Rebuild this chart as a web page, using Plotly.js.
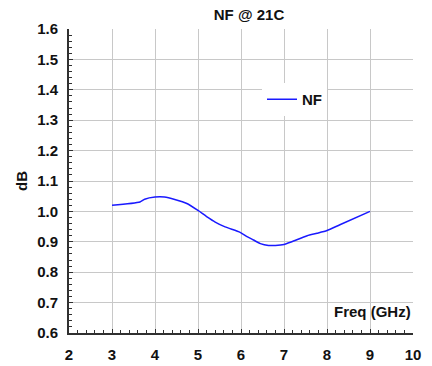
<!DOCTYPE html>
<html>
<head>
<meta charset="utf-8">
<script src="https://cdn.plot.ly/plotly-3.0.1.min.js"></script>
<style>html,body{margin:0;padding:0;background:#fff;}#chart{width:432px;height:366px;}</style>
</head>
<body>
<div id="chart"></div>
<script>
const freqGHz = [3.0, 3.65, 3.76, 4.0, 4.22, 4.46, 4.74, 5.0, 5.2, 5.4, 5.63, 5.98, 6.14, 6.29, 6.45, 6.64, 6.8, 7.0, 7.18, 7.54, 7.77, 8.0, 8.3, 9.0];
const nfDb = [1.020, 1.031, 1.040, 1.047, 1.047, 1.039, 1.026, 1.003, 0.983, 0.965, 0.949, 0.931, 0.917, 0.906, 0.894, 0.888, 0.888, 0.891, 0.900, 0.920, 0.928, 0.937, 0.956, 1.000];
const seriesName = "NF";
const chartTitle = "NF @ 21C";
const xTitle = "Freq (GHz)";
const yTitle = "dB";

const F = "Arial, Liberation Sans, sans-serif";
const FS = 15;
const axisCommon = {
  showgrid: true, gridcolor: "#c8c8c8", gridwidth: 1,
  showline: true, linecolor: "#303030", linewidth: 2,
  zeroline: false,
  ticks: "inside", ticklen: 4, tickcolor: "#303030", tickwidth: 1,
  tickfont: {family: F, size: FS, color: "#111", weight: 700}
};
const layout = {
  width: 432, height: 366,
  margin: {l: 69, r: 19, t: 29, b: 33},
  paper_bgcolor: "#fff", plot_bgcolor: "#fff",
  font: {family: F, color: "#111"},
  title: {text: "<b>" + chartTitle + "</b>", font: {family: F, size: FS, weight: 700, color: "#111"},
          x: 249/432, xref: "container", xanchor: "center", y: 1 - 15/366, yref: "container", yanchor: "middle"},
  xaxis: Object.assign({}, axisCommon, {
    range: [2, 10], dtick: 1, tick0: 2,
    minor: {dtick: 0.2, ticks: "inside", ticklen: 3, tickcolor: "#303030", showgrid: false},
    ticklabelstandoff: 7
  }),
  yaxis: Object.assign({}, axisCommon, {
    range: [0.6, 1.6], dtick: 0.1, tick0: 0.6, tickformat: ".1f",
    minor: {dtick: 0.02, ticks: "inside", ticklen: 3, tickcolor: "#303030", showgrid: false},
    title: {text: "<b>" + yTitle + "</b>", font: {family: F, size: FS, weight: 700, color: "#111"}, standoff: 6},
    ticklabelstandoff: 6
  }),
  showlegend: true,
  legend: {x: (262-69)/344, y: 1 - (83-29)/304, xanchor: "left", yanchor: "top",
           bgcolor: "#fff", borderwidth: 0, itemwidth: 30,
           font: {family: F, size: FS, weight: 700, color: "#111"}},
  shapes: [{type: "rect", xref: "paper", yref: "paper", layer: "below",
            x0: (245-69)/344, x1: (341-69)/344, y0: 1 - (113-29)/304, y1: 1 - (87-29)/304,
            fillcolor: "#fff", line: {width: 0}}],
  annotations: [{text: "<b>" + xTitle + "</b>", xref: "x", yref: "y", x: 10, y: 0.672, xanchor: "right", yanchor: "middle",
                 showarrow: false, font: {family: F, size: FS, weight: 700, color: "#111"}}]
};
const data = [{
  x: freqGHz, y: nfDb, name: "<b>" + seriesName + "</b>", type: "scatter", mode: "lines",
  line: {color: "#1a1aff", width: 1.5, shape: "spline", smoothing: 0.6}
}];
Plotly.newPlot("chart", data, layout, {staticPlot: true, displayModeBar: false});
</script>
</body>
</html>
